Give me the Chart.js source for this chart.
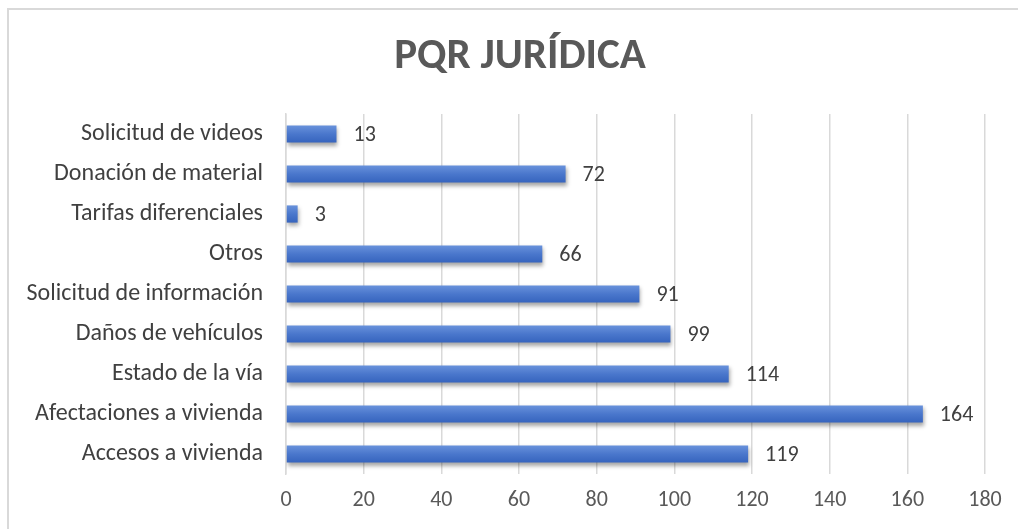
<!DOCTYPE html>
<html>
<head>
<meta charset="utf-8">
<script src="https://cdn.jsdelivr.net/npm/chart.js@4/dist/chart.umd.min.js"></script>
<style>
  html, body { margin: 0; padding: 0; background: #fff; overflow: hidden; }
  #frame { position: absolute; left: 7px; top: 8px; width: 1100px; height: 600px; border: 2px solid #d9d9d9; }
  #box { position: absolute; left: 0; top: 0; width: 1018px; height: 529px; }
</style>
</head>
<body>
<div id="frame"></div>
<div id="box"><canvas id="myChart"></canvas></div>
<script>
// data
var chartTitle = 'PQR JURÍDICA';
var categories = ['Solicitud de videos', 'Donación de material', 'Tarifas diferenciales', 'Otros',
  'Solicitud de información', 'Daños de vehículos', 'Estado de la vía', 'Afectaciones a vivienda', 'Accesos a vivienda'];
var values = [13, 72, 3, 66, 91, 99, 114, 164, 119];
var xTicks = [0, 20, 40, 60, 80, 100, 120, 140, 160, 180];

var fontFam = "Carlito, Calibri, 'Open Sans', 'Liberation Sans', sans-serif";

// title centred on the whole picture, not on the padded box
var titlePlugin = {
  id: 'bigTitle',
  afterDraw: function(chart) {
    var ctx = chart.ctx;
    ctx.save();
    ctx.font = "bold 43px " + fontFam;
    ctx.fillStyle = '#595959';
    ctx.textAlign = 'center';
    ctx.textBaseline = 'middle';
    ctx.fillText(chartTitle, 520, 57);
    ctx.restore();
  }
};

// bar shadow like the office chart
var shadowPlugin = {
  id: 'barShadow',
  beforeDatasetDraw: function(chart) {
    var ctx = chart.ctx;
    ctx.save();
    ctx.shadowColor = 'rgba(0,0,0,0.35)';
    ctx.shadowBlur = 4;
    ctx.shadowOffsetX = 1;
    ctx.shadowOffsetY = 3;
  },
  afterDatasetDraw: function(chart) {
    chart.ctx.restore();
  }
};

// value labels at the end of each bar
var labelPlugin = {
  id: 'valueLabels',
  afterDatasetsDraw: function(chart) {
    var ctx = chart.ctx;
    var meta = chart.getDatasetMeta(0);
    ctx.save();
    ctx.font = "22px " + fontFam;
    ctx.fillStyle = '#404040';
    ctx.textBaseline = 'middle';
    meta.data.forEach(function(bar, i) {
      ctx.fillText(values[i], bar.x + 17, bar.y + 1);
    });
    ctx.restore();
  }
};

function barGradient(context) {
  var chart = context.chart;
  var yScale = chart.scales && chart.scales.y;
  if (!chart.chartArea || !yScale || context.dataIndex === undefined) return '#4472c4';
  var cy = yScale.getPixelForValue(context.dataIndex);
  if (!isFinite(cy)) return '#4472c4';
  var h = 9;
  var g = chart.ctx.createLinearGradient(0, cy - h, 0, cy + h);
  g.addColorStop(0, '#6a93dc');
  g.addColorStop(0.5, '#4a77cc');
  g.addColorStop(1, '#3563bd');
  return g;
}

var config = {
  type: 'bar',
  data: {
    labels: categories,
    datasets: [{
      data: values,
      backgroundColor: barGradient,
      borderWidth: 0,
      barPercentage: 0.43,
      categoryPercentage: 1
    }]
  },
  options: {
    indexAxis: 'y',
    responsive: true,
    maintainAspectRatio: false,
    animation: false,
    layout: { padding: { left: 0, right: 33, top: 114, bottom: 0 } },
    plugins: {
      legend: { display: false },
      tooltip: { enabled: false },
      title: { display: false }
    },
    scales: {
      x: {
        min: 0,
        max: 180,
        afterBuildTicks: function(scale) {
          scale.ticks = xTicks.map(function(v) { return { value: v }; });
        },
        afterFit: function(scale) { scale.height = 55; },
        grid: { color: '#d9d9d9', lineWidth: 1.5, drawTicks: false },
        border: { display: false },
        ticks: {
          color: '#595959',
          padding: 13,
          font: { family: fontFam, size: 22 }
        }
      },
      y: {
        afterFit: function(scale) { scale.width = 286; },
        grid: { display: false },
        border: { display: true, color: '#d9d9d9', width: 1.5 },
        ticks: {
          color: '#404040',
          padding: 15,
          font: { family: fontFam, size: 24 }
        }
      }
    }
  },
  plugins: [shadowPlugin, labelPlugin, titlePlugin]
};

var chartInstance = new Chart(document.getElementById('myChart'), config);
</script>
</body>
</html>
